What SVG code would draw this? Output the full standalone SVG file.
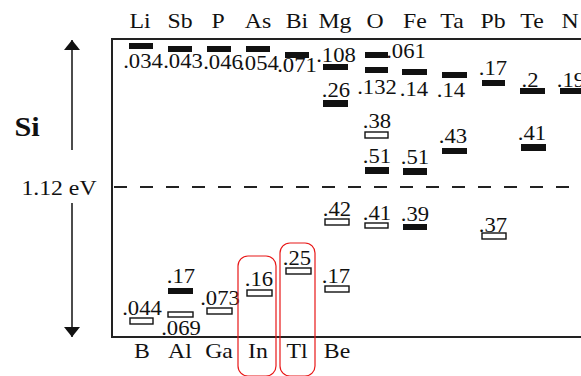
<svg xmlns="http://www.w3.org/2000/svg" width="581" height="376" viewBox="0 0 581 376">
  <style>
    text { font-family: "Liberation Serif", "Times New Roman", serif; fill: #111; text-anchor: middle;
           transform-box: fill-box; transform-origin: center; transform: scaleX(1.08); }
    .el { font-size: 22px; }
    .val { font-size: 21px; }
    .full { fill: #111; }
    .open { fill: #fff; stroke: #111; stroke-width: 1.4; }
    .frame { fill: none; stroke: #222; stroke-width: 2; }
    .gapline { stroke: #222; stroke-width: 2; stroke-dasharray: 13 13; }
    .ring { fill: none; stroke: #e81818; stroke-width: 1.2; }
  </style>
  <defs>
    <marker id="tip" viewBox="0 0 10 16" refX="10" refY="8" markerWidth="10" markerHeight="16" markerUnits="userSpaceOnUse" orient="auto">
      <path d="M0,0 L10,8 L0,16 Z" fill="#111"/>
    </marker>
  </defs>

  <rect width="581" height="376" fill="#fff"/>

  <!-- band frame: conduction band edge (top), valence band edge (bottom) -->
  <path class="frame" d="M581,39 H112 V337 H581"/>
  <line class="gapline" x1="114" y1="187" x2="581" y2="187"/>

  <!-- gap axis -->
  <g id="connectors">
    <line x1="72" y1="150" x2="72" y2="40" stroke="#111" stroke-width="1.5" marker-end="url(#tip)"/>
    <line x1="72" y1="203" x2="72" y2="337" stroke="#111" stroke-width="1.5" marker-end="url(#tip)"/>
  </g>
  <text x="27" y="136" style="font-size:28px;font-weight:bold">Si</text>
  <text x="59" y="195" class="el">1.12 eV</text>

  <!-- element names -->
  <g id="top-names">
    <text x="140" y="28" class="el">Li</text>
    <text x="180" y="28" class="el">Sb</text>
    <text x="218" y="28" class="el">P</text>
    <text x="258" y="28" class="el">As</text>
    <text x="297" y="28" class="el">Bi</text>
    <text x="335" y="28" class="el">Mg</text>
    <text x="375" y="28" class="el">O</text>
    <text x="415" y="28" class="el">Fe</text>
    <text x="452" y="28" class="el">Ta</text>
    <text x="493" y="28" class="el">Pb</text>
    <text x="532" y="28" class="el">Te</text>
    <text x="570" y="28" class="el">N</text>
  </g>
  <g id="bottom-names">
    <text x="142" y="358" class="el">B</text>
    <text x="180" y="358" class="el">Al</text>
    <text x="219" y="358" class="el">Ga</text>
    <text x="258" y="358" class="el">In</text>
    <text x="297" y="358" class="el">Tl</text>
    <text x="337" y="358" class="el">Be</text>
  </g>

  <!-- impurity levels -->
  <g id="Li"><rect class="full" x="129" y="43" width="24" height="6"/><text class="val" x="143" y="68">.034</text></g>
  <g id="Sb"><rect class="full" x="168" y="46" width="24" height="6"/><text class="val" x="183" y="68">.043</text></g>
  <g id="P"><rect class="full" x="207" y="46" width="24" height="6"/><text class="val" x="223" y="69">.046</text></g>
  <g id="As"><rect class="full" x="246" y="46" width="24" height="6"/><text class="val" x="259" y="70">.054</text></g>
  <g id="Bi"><rect class="full" x="285" y="52" width="24" height="6"/><text class="val" x="297" y="72">.071</text></g>
  <g id="Mg">
    <text class="val" x="336" y="62">.108</text><rect class="full" x="323" y="64" width="25" height="6"/>
    <text class="val" x="336" y="97">.26</text><rect class="full" x="323" y="100" width="25" height="7"/>
    <text class="val" x="337" y="216">.42</text><rect class="open" x="325" y="219" width="24" height="6"/>
  </g>
  <g id="O">
    <rect class="full" x="365" y="52" width="23" height="6"/><text class="val" x="406" y="58">.061</text>
    <rect class="full" x="365" y="67" width="23" height="6"/><text class="val" x="377" y="94">.132</text>
    <text class="val" x="377" y="128">.38</text><rect class="open" x="365" y="132" width="23" height="6"/>
    <text class="val" x="377" y="163">.51</text><rect class="full" x="365" y="167" width="24" height="7"/>
    <text class="val" x="377" y="220">.41</text><rect class="open" x="365" y="223" width="23" height="5"/>
  </g>
  <g id="Fe">
    <rect class="full" x="402" y="69" width="25" height="6"/><text class="val" x="414" y="96">.14</text>
    <text class="val" x="415" y="164">.51</text><rect class="full" x="403" y="168" width="24" height="7"/>
    <text class="val" x="415" y="221">.39</text><rect class="full" x="403" y="224" width="24" height="6"/>
  </g>
  <g id="Ta">
    <rect class="full" x="442" y="72" width="25" height="6"/><text class="val" x="451" y="97">.14</text>
    <text class="val" x="453" y="143">.43</text><rect class="full" x="442" y="148" width="25" height="6"/>
  </g>
  <g id="Pb">
    <text class="val" x="493" y="75">.17</text><rect class="full" x="482" y="80" width="23" height="6"/>
    <text class="val" x="493" y="232">.37</text><rect class="open" x="482" y="233" width="24" height="6"/>
  </g>
  <g id="Te">
    <text class="val" x="530" y="87">.2</text><rect class="full" x="520" y="88" width="25" height="6"/>
    <text class="val" x="532" y="140">.41</text><rect class="full" x="521" y="144" width="25" height="7"/>
  </g>
  <g id="N">
    <text class="val" x="571" y="87">.19</text><rect class="full" x="560" y="88" width="24" height="6"/>
  </g>
  <g id="B">
    <text class="val" x="142" y="315">.044</text><rect class="open" x="130" y="318" width="23" height="6"/>
  </g>
  <g id="Al">
    <text class="val" x="181" y="283">.17</text><rect class="full" x="168" y="288" width="25" height="6"/>
    <rect class="open" x="168" y="312" width="25" height="5"/><text class="val" x="181" y="335">.069</text>
  </g>
  <g id="Ga">
    <text class="val" x="220" y="305">.073</text><rect class="open" x="207" y="308" width="25" height="6"/>
  </g>
  <g id="In">
    <text class="val" x="259" y="286">.16</text><rect class="open" x="247" y="290" width="25" height="6"/>
    <rect class="ring" x="238" y="256" width="38" height="120" rx="10"/>
  </g>
  <g id="Tl">
    <text class="val" x="297" y="265">.25</text><rect class="open" x="286" y="268" width="25" height="6"/>
    <rect class="ring" x="280" y="243" width="35" height="133" rx="10"/>
  </g>
  <g id="Be">
    <text class="val" x="336" y="283">.17</text><rect class="open" x="325" y="286" width="24" height="6"/>
  </g>
</svg>
